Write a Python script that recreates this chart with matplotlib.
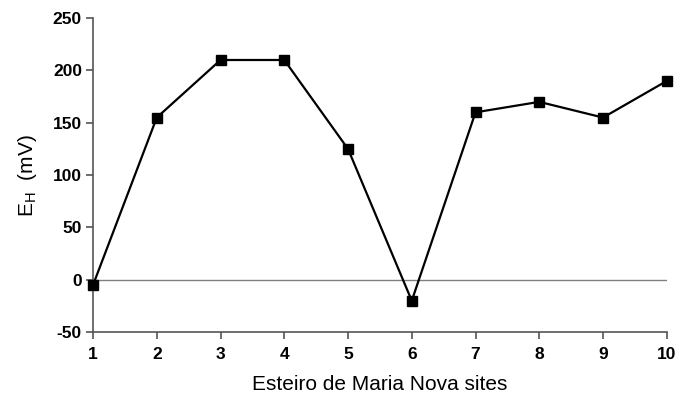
import matplotlib
matplotlib.use("Agg")
import matplotlib.pyplot as plt

plt.rcParams["font.family"] = ["Liberation Sans", "DejaVu Sans"]
plt.rcParams["axes.unicode_minus"] = False

sites = [1, 2, 3, 4, 5, 6, 7, 8, 9, 10]
eh_mv = [-5, 155, 210, 210, 125, -20, 160, 170, 155, 190]
y_ticks = [-50, 0, 50, 100, 150, 200, 250]

fig = plt.figure(figsize=(6.79, 3.94), dpi=100)
ax = fig.add_axes([0.137, 0.157, 0.845, 0.797])

ax.axhline(0, color="#808080", linewidth=1.0, zorder=1)
ax.plot(sites, eh_mv, color="black", linewidth=1.6, marker="s",
        markersize=6.5, markerfacecolor="black", clip_on=False, zorder=3)

ax.set_xlim(1, 10)
ax.set_ylim(-50, 250)
ax.set_xticks(sites)
ax.set_yticks(y_ticks)

for side in ("top", "right"):
    ax.spines[side].set_visible(False)
for side in ("left", "bottom"):
    ax.spines[side].set_color("#555555")
    ax.spines[side].set_linewidth(1.2)

ax.tick_params(direction="out", length=5, width=1.2, color="#555555",
               labelsize=12.5, pad=3)
ax.tick_params(axis="x", pad=6)
for lbl in ax.get_xticklabels() + ax.get_yticklabels():
    lbl.set_fontweight("bold")

ax.set_xlabel("Esteiro de Maria Nova sites", fontsize=15, labelpad=9)
ax.set_ylabel(r"E$_\mathregular{H}$  (mV)", fontsize=15, labelpad=10)

fig.savefig("out.png", dpi=100)
